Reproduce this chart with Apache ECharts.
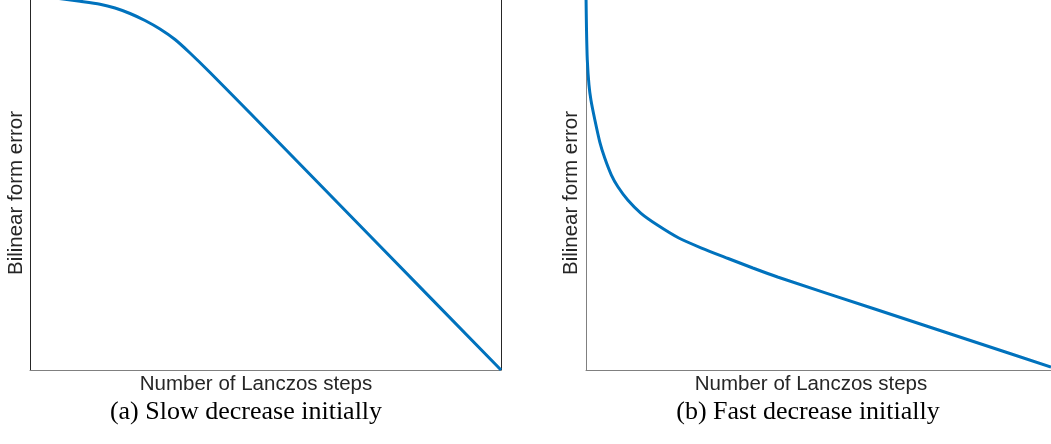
<!DOCTYPE html>
<html>
<head>
<meta charset="utf-8">
<script src="https://cdn.jsdelivr.net/npm/echarts@6/dist/echarts.min.js"></script>
<style>
  html, body { margin: 0; padding: 0; background: #fff; }
  #chart { width: 1051px; height: 444px; }
</style>
</head>
<body>
<div id="chart"></div>
<script>
// left panel: slow decrease initially (x = steps, y = error, both 0..100)
const slowSteps = [4.25, 7.43, 10.62, 14.86, 18.05, 21.23, 24.42, 27.6, 30.79, 33.97, 38.22, 46.71, 73.35, 100];
const slowError = [100.68, 100.22, 99.68, 98.86, 97.84, 96.35, 94.46, 92.16, 89.32, 85.68, 80.41, 69.46, 34.73, 0];

// right panel: fast decrease initially
const fastSteps = [0, 0.11, 0.28, 0.64, 1.06, 1.91, 2.97, 4.03, 5.46, 6.86, 8.98, 11.83, 15.35, 19.96, 24.84, 30.57, 35.88, 41.19, 62.42, 83.65, 100];
const fastError = [101.35, 91.89, 83.78, 77.03, 72.97, 67.57, 61.62, 57.3, 52.7, 49.54, 45.95, 42.35, 39.19, 35.68, 32.97, 30.14, 27.57, 25.14, 16.35, 7.57, 0.81];

const xLabel = "Number of Lanczos steps";
const yLabel = "Bilinear form error";
const captions = ["(a) Slow decrease initially", "(b) Fast decrease initially"];

function pairs(xs, ys) {
    return xs.map((x, i) => [x, ys[i]]);
}

const dark = "#262626";
const gray = "#808080";
const blue = "#0072BD";

function hiddenAxis(gridIndex, color, extra) {
    return Object.assign({
        type: "value",
        gridIndex: gridIndex,
        min: 0,
        max: 100,
        axisLine: { show: true, lineStyle: { color: color, width: 1 } },
        axisTick: { show: false },
        axisLabel: { show: false },
        splitLine: { show: false },
    }, extra || {});
}

function label(text, x, y, opts) {
    return Object.assign({
        type: "text",
        x: x,
        y: y,
        style: {
            text: text,
            fill: dark,
            font: '20.5px "Liberation Sans", Arial, sans-serif',
            align: "center",
            verticalAlign: "middle",
        },
    }, opts || {});
}

function captionText(text, x, y) {
    return {
        type: "text",
        x: x,
        y: y,
        style: {
            text: text,
            fill: "#000",
            font: '26px "Liberation Serif", "Times New Roman", serif',
            align: "center",
            verticalAlign: "middle",
        },
    };
}

function curve(xi, yi, xs, ys) {
    return {
        type: "line",
        xAxisIndex: xi,
        yAxisIndex: yi,
        data: pairs(xs, ys),
        smooth: 0.25,
        showSymbol: false,
        lineStyle: { color: blue, width: 3 },
    };
}

const chart = echarts.init(document.getElementById("chart"), null, { renderer: "canvas" });
chart.setOption({
    animation: false,
    backgroundColor: "#fff",
    grid: [
        { left: 30, right: 550, top: 0, bottom: 74 },
        { left: 586, right: -6, top: 0, bottom: 74 },
    ],
    xAxis: [
        hiddenAxis(0, gray),
        hiddenAxis(1, gray),
    ],
    yAxis: [
        hiddenAxis(0, dark),
        hiddenAxis(0, dark, { position: "right" }),
        hiddenAxis(1, gray),
    ],
    series: [
        curve(0, 0, slowSteps, slowError),
        curve(1, 2, fastSteps, fastError),
    ],
    graphic: [
        label(xLabel, 256, 384),
        label(xLabel, 811, 384),
        label(yLabel, 16, 193, { rotation: Math.PI / 2 }),
        label(yLabel, 571.5, 193, { rotation: Math.PI / 2 }),
        captionText(captions[0], 246, 412),
        captionText(captions[1], 808, 412),
    ],
});
</script>
</body>
</html>
